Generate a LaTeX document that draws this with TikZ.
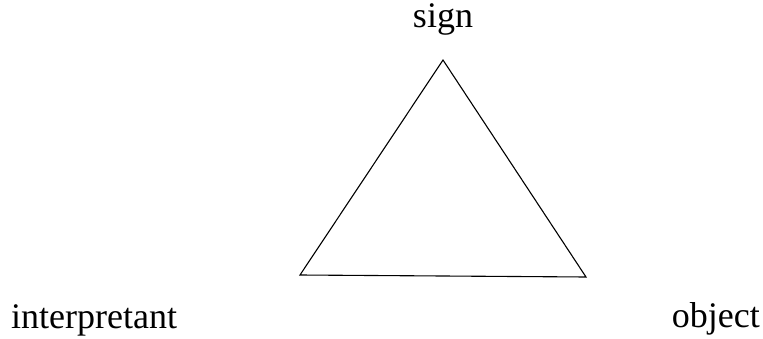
\documentclass[tikz,border=0pt]{standalone}
\usepackage{fontspec}
\setmainfont{Liberation Serif}
\usetikzlibrary{positioning, calc}

\begin{document}
\begin{tikzpicture}[x=1pt, y=1pt]
\useasboundingbox (0,0) rectangle (763,338);
\tikzset{label text/.style={inner sep=0pt, font=\fontsize{36}{40}\selectfont}}

% Corners of the triangle
\coordinate (top) at (443, 278);
\coordinate (left) at (300, 63);
\coordinate (right) at (586, 61);

% Triangle
\draw[line width=1.1pt, line join=miter] (top) -- (left) -- (right) -- cycle;

% Labels
\node[label text, anchor=base] (sign) at (443, 310) {sign};
\node[label text, anchor=base west] (interp) at (11, 10) {interpretant};
\node[label text, anchor=base east] (obj) at (760, 11) {object};

\end{tikzpicture}
\end{document}
